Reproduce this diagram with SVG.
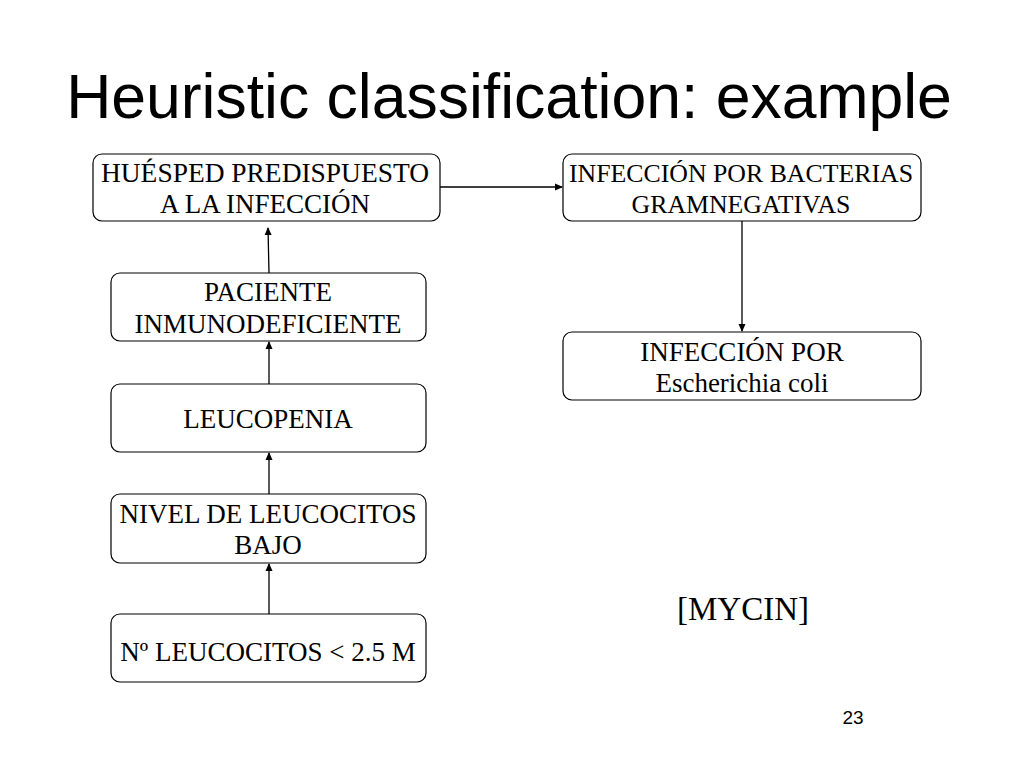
<svg xmlns="http://www.w3.org/2000/svg" width="1024" height="768" viewBox="0 0 1024 768">
<style>
.box{fill:#fff;stroke:#000;stroke-width:1.2}
.t{font-family:"Liberation Serif","Times New Roman",serif;font-size:27px;text-anchor:middle;fill:#000}
.s{font-size:25.8px}
.c{stroke:#000;stroke-width:1.3;fill:none;marker-end:url(#ah)}
</style>
<defs>
<marker id="ah" markerWidth="8" markerHeight="8" refX="7" refY="4" orient="auto" markerUnits="userSpaceOnUse">
<path d="M0,0.5 L8,4 L0,7.5 Z" fill="#000"/>
</marker>
</defs>
<rect width="1024" height="768" fill="#fff"/>
<text x="509" y="118" font-family="Liberation Sans,Arial,sans-serif" font-size="62.5" text-anchor="middle">Heuristic classification: example</text>
<g id="connectors">
<line class="c" x1="440" y1="187" x2="562" y2="187"/>
<line class="c" x1="742" y1="221" x2="742" y2="331"/>
<line class="c" x1="269" y1="273" x2="268" y2="228"/>
<line class="c" x1="269" y1="384" x2="269" y2="342"/>
<line class="c" x1="269" y1="494" x2="269" y2="453"/>
<line class="c" x1="269" y1="614" x2="269" y2="564"/>
</g>
<g id="n1"><rect class="box" x="93" y="154" width="347" height="67" rx="9"/><text class="t" x="265" y="182" textLength="328" lengthAdjust="spacingAndGlyphs">HUÉSPED PREDISPUESTO</text><text class="t" x="265" y="213">A LA INFECCIÓN</text></g>
<g id="n2"><rect class="box" x="563" y="154" width="358" height="67" rx="9"/><text class="t s" x="741" y="182">INFECCIÓN POR BACTERIAS</text><text class="t s" x="741" y="213">GRAMNEGATIVAS</text></g>
<g id="n3"><rect class="box" x="111" y="273" width="315" height="68" rx="9"/><text class="t" x="268" y="301">PACIENTE</text><text class="t" x="268" y="333">INMUNODEFICIENTE</text></g>
<g id="n4"><rect class="box" x="111" y="384" width="315" height="68" rx="9"/><text class="t" x="268" y="428">LEUCOPENIA</text></g>
<g id="n5"><rect class="box" x="111" y="494" width="315" height="69" rx="9"/><text class="t" x="268" y="523">NIVEL DE LEUCOCITOS</text><text class="t" x="268" y="554">BAJO</text></g>
<g id="n6"><rect class="box" x="111" y="614" width="315" height="68" rx="9"/><text class="t" x="268" y="661">Nº LEUCOCITOS &lt; 2.5 M</text></g>
<g id="n7"><rect class="box" x="563" y="332" width="358" height="68" rx="9"/><text class="t" x="742" y="361">INFECCIÓN POR</text><text class="t" x="742" y="392">Escherichia coli</text></g>
<text x="743" y="620" font-family="Liberation Serif,Times New Roman,serif" font-size="33" text-anchor="middle">[MYCIN]</text>
<text x="853" y="724" font-family="Liberation Sans,Arial,sans-serif" font-size="19" text-anchor="middle">23</text>
</svg>
